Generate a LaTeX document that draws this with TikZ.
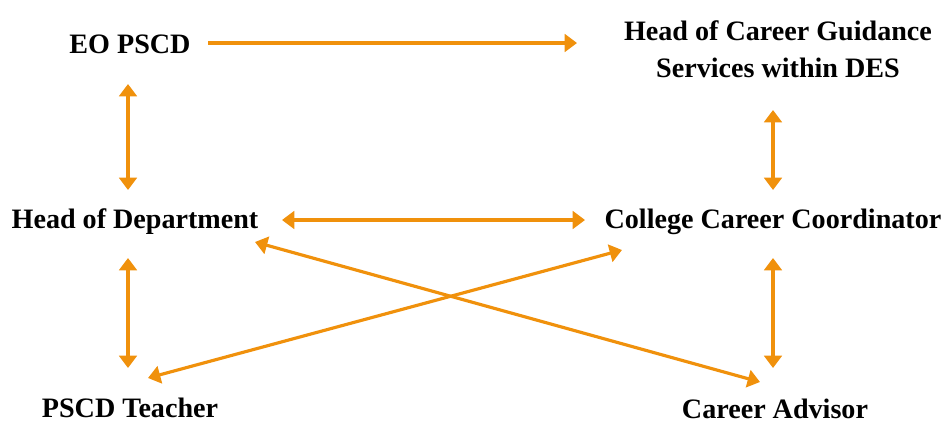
\documentclass[tikz,border=0pt]{standalone}
\usepackage{fontspec}
\setmainfont{Liberation Serif}
\usetikzlibrary{arrows.meta}
\definecolor{linkorange}{RGB}{240,145,12}
\tikzstyle{role} = [inner sep=0pt, align=center, font=\fontsize{16}{21}\selectfont\bfseries]
\tikzstyle{link} = [draw=linkorange, line width=1.8pt]
\tikzset{>={Triangle[width=10pt,length=7pt]}}
\begin{document}
\begin{tikzpicture}[x=0.02cm, y=-0.02cm]
				\useasboundingbox (0,0) rectangle (941,423);
				\node[role] (eo) at (130,44) {EO PSCD}; %
				\node[role] (hcg) at (778,49) {Head of Career Guidance\\Services within DES}; %
				\node[role] (hod) at (135,222) {Head of Department}; %
				\node[role] (ccc) at (773,222) {College Career Coordinator}; %
				\node[role] (pscd) at (130,408) {PSCD Teacher}; %
				\node[role] (adv) at (775,409) {Career Advisor}; %

				% top row
				\draw[link,->] ([shift={(78,-1)}]eo.center) -- ([shift={(-201,-6)}]hcg.center);
				\draw[link,<->] ([shift={(-2,40)}]eo.center) -- ([shift={(-7,-32)}]hod.center);
				\draw[link,<->] ([shift={(-5,61)}]hcg.center) -- ([shift={(0,-32)}]ccc.center);

				% middle row
				\draw[link,<->] ([shift={(147,-2)}]hod.center) -- ([shift={(-188,-2)}]ccc.center);
				\draw[link,<->] ([shift={(-7,36)}]hod.center) -- ([shift={(-2,-40)}]pscd.center);
				\draw[link,<->] ([shift={(0,36)}]ccc.center) -- ([shift={(-2,-41)}]adv.center);

				% crossing links
				\draw[link,<->] ([shift={(120,20)}]hod.center) -- ([shift={(-15,-27)}]adv.center);
				\draw[link,<->] ([shift={(-151,28)}]ccc.center) -- ([shift={(18,-30)}]pscd.center);
\end{tikzpicture}
\end{document}
